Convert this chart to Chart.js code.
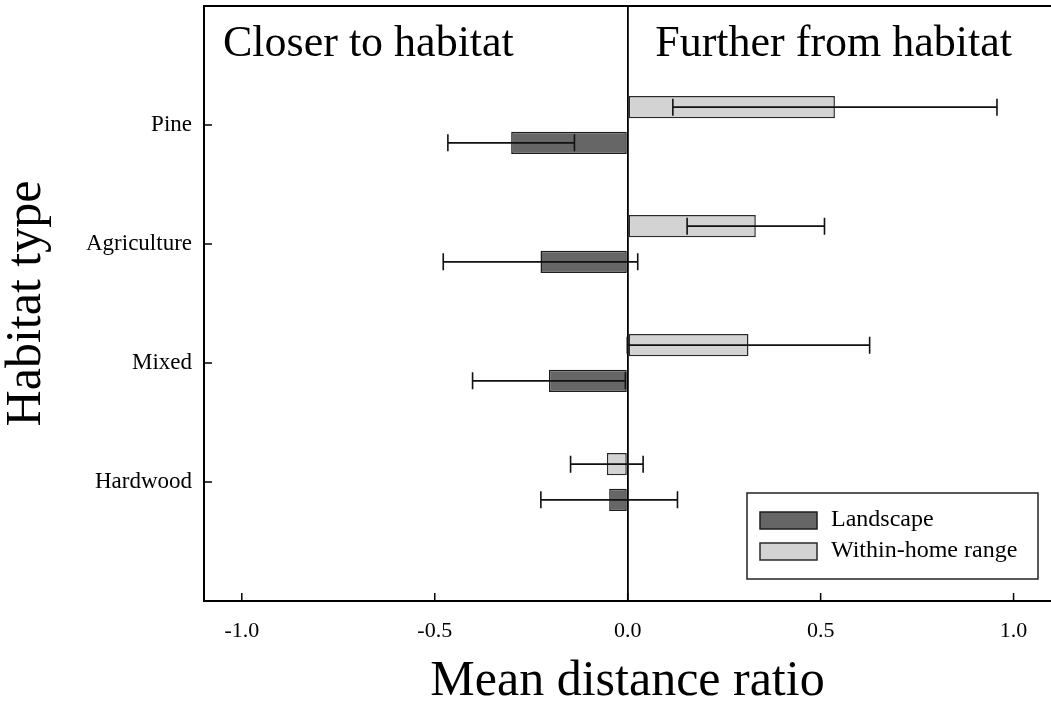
<!DOCTYPE html>
<html lang="en">
<head>
    <meta charset="UTF-8">
    <title>Mean distance ratio by habitat type</title>
</head>
<script src="https://cdn.jsdelivr.net/npm/chart.js"></script>
<style>
body {
    margin: 0;
    background: #fff;
}
#BarGraph {
    display: block;
}
</style>
<body>
    <canvas id="BarGraph" width="1051" height="707"></canvas>
    <script>
        // values
        const habitats = ['Pine', 'Agriculture', 'Mixed', 'Hardwood'];
        const homeRange = [0.537, 0.332, 0.313, -0.054];
        const homeRangeErr = [0.42, 0.178, 0.314, 0.094];
        const landscape = [-0.302, -0.226, -0.204, -0.048];
        const landscapeErr = [0.164, 0.252, 0.198, 0.177];
        const xTickValues = [-1.0, -0.5, 0.0, 0.5, 1.0];

        // one empty slot above and below so categories sit like the original
        const pad = arr => [null, ...arr, null];
        const labels = ['', ...habitats, ''];

        const serif = "'Liberation Serif', 'Times New Roman', serif";
        Chart.defaults.font.family = serif;
        Chart.defaults.color = '#000';

        // error bars, inward ticks, frame, corner texts and legend
        const extras = {
            id: 'extras',
            afterDatasetsDraw(chart) {
                const ctx = chart.ctx;
                const xs = chart.scales.x;
                ctx.save();
                ctx.strokeStyle = '#111';
                ctx.lineWidth = 1.6;
                chart.data.datasets.forEach((ds, i) => {
                    const meta = chart.getDatasetMeta(i);
                    meta.data.forEach((bar, j) => {
                        const v = ds.data[j];
                        if (v === null) return;
                        const e = ds.errors[j];
                        const x1 = xs.getPixelForValue(v - e);
                        const x2 = xs.getPixelForValue(v + e);
                        const y = bar.y;
                        ctx.beginPath();
                        ctx.moveTo(x1, y); ctx.lineTo(x2, y);
                        ctx.moveTo(x1, y - 8.5); ctx.lineTo(x1, y + 8.5);
                        ctx.moveTo(x2, y - 8.5); ctx.lineTo(x2, y + 8.5);
                        ctx.stroke();
                    });
                });
                ctx.restore();
            },
            afterDraw(chart) {
                const ctx = chart.ctx;
                const a = chart.chartArea;
                const xs = chart.scales.x;
                const ys = chart.scales.y;
                ctx.save();
                ctx.strokeStyle = '#000';
                ctx.lineWidth = 2;
                // top frame
                ctx.beginPath();
                ctx.moveTo(a.left, a.top);
                ctx.lineTo(a.right, a.top);
                ctx.stroke();
                // ticks pointing into the plot
                ctx.lineWidth = 1.5;
                ctx.beginPath();
                xTickValues.forEach(v => {
                    const px = xs.getPixelForValue(v);
                    ctx.moveTo(px, a.bottom);
                    ctx.lineTo(px, a.bottom - 8);
                });
                habitats.forEach((h, i) => {
                    const py = ys.getPixelForValue(i + 1);
                    ctx.moveTo(a.left, py);
                    ctx.lineTo(a.left + 8, py);
                });
                ctx.stroke();

                // side texts
                ctx.fillStyle = '#000';
                ctx.font = '44px ' + serif;
                ctx.textBaseline = 'alphabetic';
                ctx.textAlign = 'left';
                ctx.fillText('Closer to habitat', a.left + 19, a.top + 50);
                ctx.textAlign = 'right';
                ctx.fillText('Further from habitat', a.right - 39, a.top + 50);

                // legend box
                const bx = a.right - 304, by = a.bottom - 108, bw = 291, bh = 86;
                ctx.lineWidth = 1.5;
                ctx.strokeStyle = '#222';
                ctx.strokeRect(bx, by, bw, bh);
                ctx.font = '24px ' + serif;
                ctx.textAlign = 'left';
                ctx.textBaseline = 'middle';
                const order = [1, 0];
                order.forEach((di, k) => {
                    const ds = chart.data.datasets[di];
                    const sy = by + 19 + k * 31;
                    ctx.fillStyle = ds.backgroundColor;
                    ctx.fillRect(bx + 13, sy, 57, 17);
                    ctx.strokeStyle = ds.borderColor;
                    ctx.strokeRect(bx + 13, sy, 57, 17);
                    ctx.fillStyle = '#000';
                    ctx.fillText(ds.label, bx + 84, sy + 8);
                });
                ctx.restore();
            }
        };

        const ctx = document.getElementById('BarGraph').getContext('2d');
        new Chart(ctx, {
            type: 'bar',
            data: {
                labels: labels,
                datasets: [{
                    label: 'Within-home range',
                    data: pad(homeRange),
                    errors: pad(homeRangeErr),
                    backgroundColor: '#d3d3d3',
                    borderColor: '#2a2a2a',
                    borderWidth: 1.5,
                    borderSkipped: false
                }, {
                    label: 'Landscape',
                    data: pad(landscape),
                    errors: pad(landscapeErr),
                    backgroundColor: '#666666',
                    borderColor: '#1e1e1e',
                    borderWidth: 1.5,
                    borderSkipped: false
                }]
            },
            options: {
                indexAxis: 'y',
                responsive: false,
                animation: false,
                devicePixelRatio: 1,
                categoryPercentage: 0.6,
                barPercentage: 0.62,
                layout: { padding: { top: 6, right: 0, left: 0, bottom: 0 } },
                plugins: {
                    legend: { display: false },
                    tooltip: { enabled: false }
                },
                scales: {
                    x: {
                        type: 'linear',
                        min: -1.098,
                        max: 1.097,
                        afterBuildTicks: s => { s.ticks = xTickValues.map(v => ({ value: v })); },
                        afterFit: s => { s.height = 106; },
                        ticks: {
                            callback: v => v.toFixed(1),
                            font: { size: 22 },
                            padding: 17,
                            maxRotation: 0
                        },
                        grid: {
                            drawTicks: false,
                            color: c => (c.tick && c.tick.value === 0) ? '#000' : 'rgba(0,0,0,0)',
                            lineWidth: 1.8
                        },
                        border: { display: true, color: '#000', width: 2 },
                        title: {
                            display: true,
                            text: 'Mean distance ratio',
                            font: { size: 50, lineHeight: 1 },
                            padding: { top: 0, bottom: 0 }
                        }
                    },
                    y: {
                        type: 'category',
                        offset: false,
                        afterFit: s => { s.width = 204; s.paddingTop = 0; s.paddingBottom = 0; },
                        ticks: {
                            autoSkip: false,
                            font: { size: 23 },
                            padding: 12
                        },
                        grid: { display: false, drawTicks: false },
                        border: { display: true, color: '#000', width: 2 },
                        title: {
                            display: true,
                            text: 'Habitat type',
                            font: { size: 50, lineHeight: 1 },
                            padding: { top: 2, bottom: 0 }
                        }
                    }
                }
            },
            plugins: [extras]
        });
    </script>
</body>
</html>
